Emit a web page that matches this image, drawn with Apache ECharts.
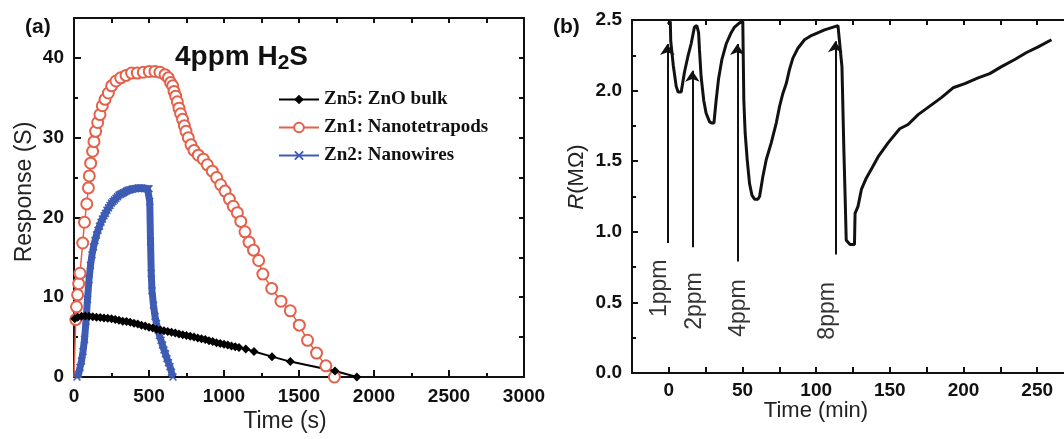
<!DOCTYPE html>
<html>
<head>
<meta charset="utf-8">
<script src="https://cdn.jsdelivr.net/npm/echarts@6/dist/echarts.min.js"></script>
<style>
html, body { margin: 0; padding: 0; background: #fff; }
#main { width: 1064px; height: 439px; }
</style>
</head>
<body>
<div id="main"></div>
<script>
// ---- panel (a): response to 4ppm H2S ----
var zn5Time = [5, 25, 50, 75, 100, 125, 150, 175, 200, 225, 250, 275, 300, 325, 350, 375, 400, 425, 450, 475, 500,
    525, 550, 575, 600, 625, 650, 675, 700, 725, 750, 775, 800, 825, 850, 875, 900, 925, 950, 975, 1000,
    1025, 1050, 1075, 1100, 1145, 1200, 1320, 1442, 1740, 1886];
var zn5Resp = [7.3, 7.5, 7.6, 7.65, 7.6, 7.55, 7.5, 7.45, 7.4, 7.35, 7.3, 7.2, 7.1, 7.0, 6.95, 6.85, 6.75, 6.65, 6.5, 6.4, 6.25,
    6.15, 6.0, 5.9, 5.8, 5.7, 5.6, 5.5, 5.4, 5.3, 5.2, 5.1, 5.0, 4.9, 4.8, 4.7, 4.55, 4.45, 4.3, 4.2, 4.1,
    4.0, 3.9, 3.8, 3.7, 3.5, 3.2, 2.55, 1.93, 0.75, 0];

var zn1Time = [0, 12, 17, 24, 31, 40, 58, 70, 85, 96, 102, 111, 124, 133, 144, 158, 173, 189, 207, 229, 251, 280, 311, 347,
    384, 422, 462, 502, 540, 573, 607, 629, 644, 658, 667, 678, 689, 700, 711, 724, 736, 747, 762, 780, 800,
    829, 862, 889, 922, 951, 978, 1007, 1036, 1062, 1089, 1112, 1140, 1167, 1197, 1231, 1259, 1318, 1380, 1442,
    1502, 1557, 1617, 1679, 1736];
var zn1Resp = [0, 7.2, 8.8, 10.3, 11.7, 13.0, 16.8, 19.4, 21.7, 23.7, 25.2, 26.8, 28.3, 29.5, 30.8, 31.9, 32.9, 34.0, 34.8, 35.6,
    36.5, 37.1, 37.5, 37.8, 38.1, 38.1, 38.2, 38.3, 38.3, 38.2, 37.9, 37.5, 36.9, 36.5, 35.8, 35.2, 34.5, 33.7,
    33.0, 32.3, 31.5, 30.8, 30.0, 29.1, 28.4, 27.8, 27.3, 26.6, 25.8, 25.0, 24.1, 23.3, 22.3, 21.4, 20.6, 19.5,
    18.2, 16.9, 15.9, 14.6, 12.9, 11.1, 9.5, 8.3, 6.5, 4.6, 3.0, 1.4, 0];

var zn2Time = [20, 30, 40, 50, 60, 70, 80, 90, 100, 110, 120, 130, 140, 150, 160, 170, 180, 190, 200, 210, 220, 230, 240,
    250, 260, 270, 280, 290, 300, 310, 320, 330, 340, 350, 360, 370, 380, 390, 400, 410, 420, 430, 440, 450,
    460, 470, 480, 490, 500, 505, 510, 515, 520, 530, 540, 550, 560, 570, 580, 590, 600, 610, 620, 630, 640,
    650, 660];
var zn2Resp = [0, 0.3, 1.2, 2.0, 3.2, 4.7, 7.0, 9.7, 12.2, 14.0, 15.3, 16.3, 17.1, 17.8, 18.4, 18.9, 19.4, 19.8, 20.2, 20.5,
    20.9, 21.2, 21.5, 21.8, 22.0, 22.2, 22.4, 22.6, 22.8, 22.9, 23.0, 23.1, 23.2, 23.3, 23.4, 23.45, 23.5, 23.55,
    23.6, 23.6, 23.65, 23.7, 23.7, 23.7, 23.65, 23.6, 23.6, 23.6, 23.6, 22.0, 17.0, 13.0, 10.8, 9.0, 7.6, 6.7,
    5.9, 5.2, 4.6, 4.0, 3.4, 2.9, 2.3, 1.8, 1.3, 0.6, 0];

var aXLabels = [0, 500, 1000, 1500, 2000, 2500, 3000];
var aYLabels = [0, 10, 20, 30, 40];

// ---- panel (b): resistance vs time ----
var bTime = [-0.5, 1, 1.3, 3, 5, 6.3, 8.4, 10.6, 12.9, 15.1, 17.4, 19, 20.2, 20.8, 21.9, 23.7, 25.3, 27.6, 29, 30.6,
    32.1, 33.7, 36, 38.9, 42.3, 44.6, 48, 50.2, 50.9, 51.8, 53.2, 54.8, 56.4, 58.2, 60.4, 61.6, 63.8, 66.1, 69.5,
    72.9, 75.2, 77.4, 79.7, 81.9, 84.2, 87.6, 92.1, 96.7, 105.7, 114.8, 116, 117.5, 118.8, 119.7, 120.4, 123,
    126, 126.4, 128.4, 130.7, 134, 137.8, 142, 148.8, 156.7, 162.4, 169.2, 177.1, 185, 192.9, 200.9, 209.9,
    217.8, 225.8, 234.8, 242.8, 250.7, 259.7];
var bRes = [2.47, 2.49, 2.35, 2.18, 2.03, 1.99, 1.99, 2.13, 2.24, 2.33, 2.45, 2.46, 2.41, 2.29, 2.10, 1.93, 1.84, 1.78, 1.77,
    1.77, 1.93, 2.08, 2.22, 2.33, 2.41, 2.45, 2.48, 2.49, 1.93, 1.70, 1.51, 1.34, 1.26, 1.23, 1.23, 1.25, 1.39,
    1.51, 1.63, 1.77, 1.89, 1.98, 2.05, 2.15, 2.23, 2.30, 2.36, 2.39, 2.43, 2.46, 2.46, 2.17, 1.58, 1.23, 0.94,
    0.91, 0.91, 1.13, 1.18, 1.30, 1.38, 1.45, 1.53, 1.63, 1.73, 1.76, 1.83, 1.89, 1.95, 2.02, 2.05, 2.09, 2.12,
    2.17, 2.22, 2.27, 2.31, 2.36];

var bXLabels = [0, 50, 100, 150, 200, 250];
var bYLabels = [0, 0.5, 1.0, 1.5, 2.0, 2.5];

// gas pulses (arrows + labels)
var pulseNames = ['1ppm', '2ppm', '4ppm', '8ppm'];
var pulseTime = [-1, 16, 46.5, 113];
var pulseFrom = [0.92, 0.89, 0.79, 0.84];
var pulseTo = [2.33, 2.14, 2.33, 2.35];
var pulseLabelTime = [-6, 17.5, 47.5, 108];
var pulseLabelR = [0.6, 0.51, 0.46, 0.44];

function zip(xs, ys) {
    var out = [];
    for (var i = 0; i < xs.length; i++) out.push([xs[i], ys[i]]);
    return out;
}

var INK = '#111';
var crossPath = 'path://M0,1.4L1.4,0L5,3.6L8.6,0L10,1.4L6.4,5L10,8.6L8.6,10L5,6.4L1.4,10L0,8.6L3.6,5Z';

// one axis = line + inside ticks (+ optional labels, only those in o.labels are written)
function axis(o) {
    var fmt = o.fmt || function (v) { return String(v); };
    return {
        type: 'value',
        gridIndex: o.grid,
        position: o.pos,
        min: o.min,
        max: o.max,
        interval: o.step,
        axisLine: { show: !!o.line, onZero: false, lineStyle: { color: INK, width: 2 } },
        axisTick: { show: true, inside: true, length: o.len, lineStyle: { color: INK, width: 2 } },
        axisLabel: o.labels ? {
            show: true,
            formatter: function (v) {
                for (var i = 0; i < o.labels.length; i++) {
                    if (Math.abs(o.labels[i] - v) < 1e-6) return fmt(o.labels[i]);
                }
                return '';
            },
            margin: o.margin,
            fontFamily: 'Liberation Sans',
            fontWeight: 'bold',
            fontSize: o.size,
            color: INK
        } : { show: false },
        splitLine: { show: false }
    };
}

// subscript title pieces placed side by side
var titleFont = 'bold 28px "Liberation Sans"';
var subFont = 'bold 21px "Liberation Sans"';
var ctx = document.createElement('canvas').getContext('2d');
ctx.font = titleFont;
var wMain = ctx.measureText('4ppm H').width;
ctx.font = subFont;
var wSub = ctx.measureText('2').width;

var dom = document.getElementById('main');
var myChart = echarts.init(dom);

var zn1Data = zip(zn1Time, zn1Resp);
zn1Data[0] = { value: zn1Data[0], symbol: 'none' };   // line starts at the origin without a marker

var option = {
    animation: false,
    grid: [
        { left: 74, top: 18, width: 450, height: 359, outerBoundsMode: 'none' },
        { left: 632, top: 20, width: 442, height: 353, outerBoundsMode: 'none' }
    ],
    xAxis: [
        axis({ grid: 0, pos: 'bottom', min: 0, max: 3000, step: 500, line: true, len: 7, labels: aXLabels, margin: 10, size: 19 }),
        axis({ grid: 0, pos: 'bottom', min: 0, max: 3000, step: 250, len: 4 }),
        axis({ grid: 0, pos: 'top', min: 0, max: 3000, step: 250, line: true, len: 5 }),
        axis({ grid: 1, pos: 'bottom', min: -25, max: 275, step: 25, line: true, len: 6, labels: bXLabels, margin: 8, size: 19 }),
        axis({ grid: 1, pos: 'top', min: -25, max: 275, step: 25, line: true, len: 5 })
    ],
    yAxis: [
        axis({ grid: 0, pos: 'left', min: 0, max: 45, step: 10, line: true, len: 7, labels: aYLabels, margin: 10, size: 19 }),
        axis({ grid: 0, pos: 'left', min: 0, max: 45, step: 5, len: 4 }),
        axis({ grid: 0, pos: 'right', min: 0, max: 45, step: 5, line: true, len: 5 }),
        axis({ grid: 1, pos: 'left', min: 0, max: 2.5, step: 0.5, line: true, len: 6, labels: bYLabels, margin: 10, size: 19,
            fmt: function (v) { return v.toFixed(1); } }),
        axis({ grid: 1, pos: 'left', min: 0, max: 2.5, step: 0.25, len: 4 })
    ],
    legend: {
        data: ['Zn5: ZnO bulk', 'Zn1: Nanotetrapods', 'Zn2: Nanowires'],
        orient: 'vertical',
        left: 273,
        top: 85,
        itemWidth: 40,
        itemHeight: 12,
        itemGap: 9,
        lineStyle: { width: 2 },
        textStyle: { fontFamily: 'Liberation Serif', fontWeight: 'bold', fontSize: 19, color: INK, lineHeight: 18 }
    },
    graphic: [
        { type: 'text', left: 25, top: 17, style: { text: '(a)', font: 'bold 21px "Liberation Sans"', fill: INK } },
        { type: 'text', left: 553, top: 17, style: { text: '(b)', font: 'bold 21px "Liberation Sans"', fill: INK } },
        { type: 'text', x: 175, y: 71, style: { text: '4ppm H', font: titleFont, fill: INK, textVerticalAlign: 'bottom' } },
        { type: 'text', x: 175 + wMain, y: 74, style: { text: '2', font: subFont, fill: INK, textVerticalAlign: 'bottom' } },
        { type: 'text', x: 175 + wMain + wSub, y: 71, style: { text: 'S', font: titleFont, fill: INK, textVerticalAlign: 'bottom' } },
        { type: 'text', x: 25, y: 192, rotation: Math.PI / 2,
            style: { text: 'Response (S)', font: '23px "Liberation Sans"', fill: '#222', textAlign: 'center', textVerticalAlign: 'middle' } },
        { type: 'text', x: 285, y: 422,
            style: { text: 'Time (s)', font: '23px "Liberation Sans"', fill: '#222', textAlign: 'center', textVerticalAlign: 'middle' } },
        { type: 'text', x: 577, y: 177, rotation: Math.PI / 2,
            style: {
                text: '{i|R}{n|(MΩ)}', textAlign: 'center', textVerticalAlign: 'middle',
                rich: {
                    i: { fontFamily: 'Liberation Sans', fontStyle: 'italic', fontSize: 22, fill: '#222' },
                    n: { fontFamily: 'Liberation Sans', fontSize: 22, fill: '#222' }
                }
            } },
        { type: 'text', x: 816, y: 411,
            style: { text: 'Time (min)', font: '22px "Liberation Sans"', fill: '#222', textAlign: 'center', textVerticalAlign: 'middle' } }
    ],
    series: [
        {
            name: 'Zn1: Nanotetrapods',
            type: 'line',
            xAxisIndex: 0, yAxisIndex: 0,
            data: zn1Data,
            symbol: 'emptyCircle',
            symbolSize: 11,
            lineStyle: { color: '#e4604a', width: 1.5 },
            itemStyle: { color: '#e4604a', borderWidth: 1 }
        },
        {
            name: 'Zn2: Nanowires',
            type: 'line',
            xAxisIndex: 0, yAxisIndex: 0,
            data: zip(zn2Time, zn2Resp),
            symbol: crossPath,
            symbolSize: 8,
            lineStyle: { color: '#3e5cb4', width: 7 },
            itemStyle: { color: '#3e5cb4' }
        },
        {
            name: 'Zn5: ZnO bulk',
            type: 'line',
            xAxisIndex: 0, yAxisIndex: 0,
            data: zip(zn5Time, zn5Resp),
            symbol: 'diamond',
            symbolSize: 9,
            lineStyle: { color: '#000', width: 2 },
            itemStyle: { color: '#000' }
        },
        {
            name: 'R',
            type: 'line',
            xAxisIndex: 3, yAxisIndex: 3,
            data: zip(bTime, bRes),
            showSymbol: false,
            symbol: 'none',
            lineStyle: { color: INK, width: 3 },
            markLine: {
                silent: true,
                symbol: ['none', 'arrow'],
                symbolSize: 11,
                label: { show: false },
                lineStyle: { color: INK, width: 2, type: 'solid' },
                data: pulseTime.map(function (t, i) {
                    return [{ coord: [t, pulseFrom[i]] }, { coord: [t, pulseTo[i]] }];
                })
            }
        },
        {
            name: 'pulses',
            type: 'scatter',
            xAxisIndex: 3, yAxisIndex: 3,
            symbolSize: 0,
            silent: true,
            data: pulseNames.map(function (n, i) {
                return { name: n, value: [pulseLabelTime[i], pulseLabelR[i]] };
            }),
            label: {
                show: true,
                position: 'inside',
                rotate: 90,
                formatter: function (p) { return p.name; },
                fontFamily: 'Liberation Sans',
                fontSize: 23,
                color: '#000',
                align: 'center',
                verticalAlign: 'middle'
            }
        }
    ]
};

myChart.setOption(option);
</script>
</body>
</html>
